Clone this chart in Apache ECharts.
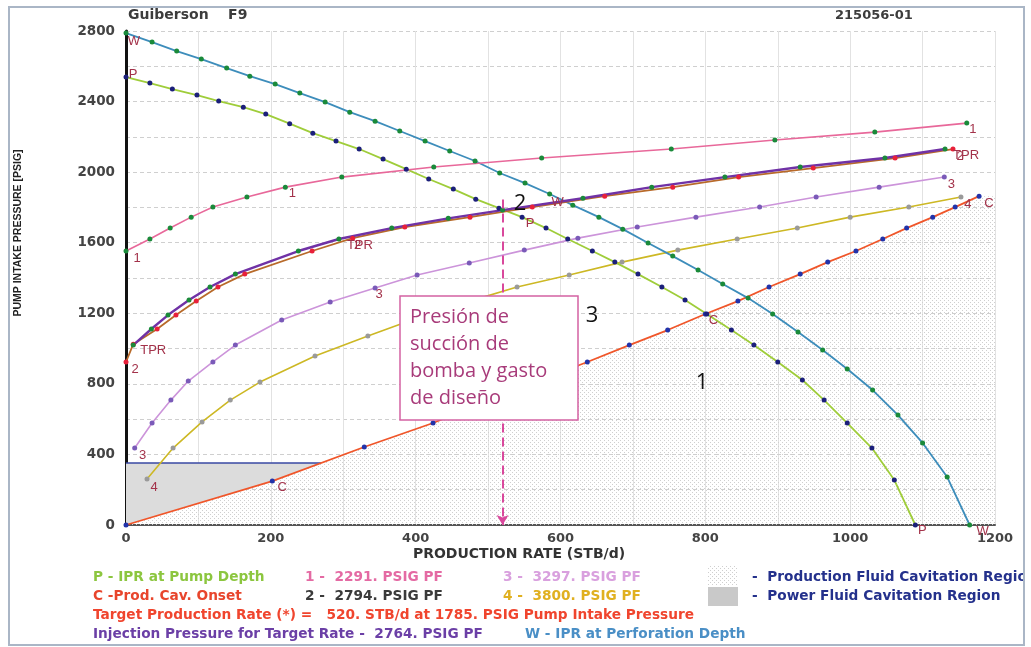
<!DOCTYPE html>
<html>
<head>
<meta charset="utf-8">
<script src="https://cdn.jsdelivr.net/npm/echarts@6/dist/echarts.min.js"></script>
<style>
  html, body { margin: 0; padding: 0; background: #ffffff; }
  #chart { width: 1031px; height: 647px; }
</style>
</head>
<body>
<div id="chart"></div>
<script>
// Jet pump performance: pump intake pressure vs production rate

// IPR at perforation depth (W)
const wRate  = [0, 36, 70, 104, 139, 171, 206, 240, 275, 309, 344, 378, 413, 447, 482, 516, 551, 585, 617, 653, 686, 721, 755, 790, 824, 859, 893, 928, 962, 996, 1031, 1066, 1100, 1134, 1165];
const wPress = [2788, 2737, 2686, 2641, 2590, 2544, 2499, 2448, 2397, 2340, 2289, 2233, 2176, 2120, 2063, 1995, 1938, 1876, 1813, 1745, 1677, 1598, 1524, 1445, 1366, 1286, 1196, 1094, 992, 884, 765, 623, 465, 272, 0];

// IPR at pump depth (P)
const pRate  = [0, 33, 64, 98, 128, 162, 193, 226, 258, 290, 322, 355, 387, 418, 452, 483, 515, 547, 580, 610, 644, 675, 707, 740, 772, 802, 836, 867, 900, 934, 964, 996, 1030, 1061, 1090];
const pPress = [2539, 2505, 2471, 2437, 2403, 2368, 2329, 2275, 2221, 2176, 2131, 2074, 2017, 1961, 1904, 1847, 1796, 1745, 1683, 1621, 1553, 1490, 1422, 1349, 1275, 1196, 1105, 1020, 924, 822, 708, 578, 436, 255, 0];

// Production cavitation onset (C)
const cRate  = [0, 202, 329, 424, 500, 569, 637, 695, 748, 800, 845, 888, 931, 969, 1008, 1045, 1078, 1114, 1145, 1178];
const cPress = [0, 249, 442, 578, 703, 816, 924, 1020, 1105, 1196, 1269, 1349, 1422, 1490, 1553, 1621, 1683, 1745, 1802, 1864];

// Pump curves at power fluid pressures
const r1 = [0, 33, 61, 90, 120, 167, 220, 298, 425, 574, 753, 896, 1034, 1161];
const p1 = [1553, 1621, 1683, 1745, 1802, 1859, 1915, 1972, 2029, 2080, 2131, 2182, 2227, 2278];

const r2 = [0, 10, 43, 69, 97, 127, 164, 257, 313, 385, 475, 561, 661, 755, 846, 949, 1062, 1142];
const p2 = [924, 1025, 1111, 1190, 1269, 1349, 1422, 1553, 1626, 1689, 1745, 1802, 1864, 1915, 1972, 2023, 2080, 2131];

const r3 = [12, 36, 62, 86, 120, 151, 215, 282, 344, 402, 474, 550, 624, 706, 787, 875, 953, 1040, 1130];
const p3 = [436, 578, 708, 816, 924, 1020, 1162, 1264, 1343, 1417, 1485, 1558, 1626, 1689, 1745, 1802, 1859, 1915, 1972];

const r4 = [29, 65, 105, 144, 185, 261, 334, 406, 475, 540, 612, 685, 762, 844, 927, 1000, 1081, 1153];
const p4 = [261, 436, 584, 708, 810, 958, 1071, 1179, 1269, 1349, 1417, 1490, 1558, 1621, 1683, 1745, 1802, 1859];

// Tubing performance at injection pressure for target rate (TPR)
const rT = [10, 35, 58, 87, 116, 151, 238, 294, 367, 445, 520, 631, 726, 827, 931, 1048, 1131];
const pT = [1020, 1111, 1190, 1275, 1349, 1422, 1553, 1621, 1683, 1738, 1785, 1852, 1915, 1972, 2029, 2080, 2131];

// Design point and power fluid cavitation limit
const targetRate = 520;
const targetPress = 1785;
const pfCavPress = 351;

// Axis ranges and tick labels
const xMax = 1200, xStep = 200;
const yMax = 2800, yStep = 400;

// Bottom legend lines
const legendRows = [
  [{ t: 'P - IPR at Pump Depth', c: '#8cc63f', x: 93 }, { t: '1 -  2291. PSIG PF', c: '#e46aa3', x: 305 }, { t: '3 -  3297. PSIG PF', c: '#d9a0de', x: 503 }, { t: '-  Production Fluid Cavitation Region', c: '#24318c', x: 752 }],
  [{ t: 'C -Prod. Cav. Onset', c: '#e8452c', x: 93 }, { t: '2 -  2794. PSIG PF', c: '#3a3a3a', x: 305 }, { t: '4 -  3800. PSIG PF', c: '#e0b020', x: 503 }, { t: '-  Power Fluid Cavitation Region', c: '#24318c', x: 752 }],
  [{ t: 'Target Production Rate (*) =   ' + targetRate + '. STB/d at ' + targetPress + '. PSIG Pump Intake Pressure', c: '#f0452e', x: 93 }],
  [{ t: 'Injection Pressure for Target Rate -  2764. PSIG PF', c: '#6b3fa6', x: 93 }, { t: 'W - IPR at Perforation Depth', c: '#4a8fc6', x: 525 }]
];

const FONT = 'Liberation Sans, Arial, sans-serif';
const WIDE = 'DejaVu Sans, Verdana, sans-serif';
const TAG = '#a3324a';

// dotted fill for the production fluid cavitation region
function dotPattern() {
  const cv = document.createElement('canvas');
  cv.width = 4; cv.height = 4;
  const g = cv.getContext('2d');
  g.fillStyle = '#cfcfcf';
  g.fillRect(0, 0, 1, 1);
  g.fillRect(2, 2, 1, 1);
  return cv;
}
const pattern = { image: dotPattern(), repeat: 'repeat' };

// pair x/y arrays into points, with curve tags attached to chosen points
function points(xs, ys, tags) {
  return xs.map((x, i) => {
    const tag = tags && tags[i];
    const item = { value: [x, ys[i]] };
    if (tag) {
      item.label = {
        show: true, formatter: tag[0], position: 'inside', offset: tag[1],
        color: TAG, fontSize: 13, fontFamily: FONT
      };
    }
    return item;
  });
}

function curve(name, xs, ys, lineColor, dotColor, tags, width) {
  return {
    name, type: 'line', data: points(xs, ys, tags),
    symbol: 'circle', symbolSize: 5, showSymbol: true,
    itemStyle: { color: dotColor },
    lineStyle: { color: lineColor, width: width || 1.6 },
    label: { show: false },
    emphasis: { disabled: true },
    z: 4, animation: false
  };
}

// rate where the cavitation onset curve reaches the power fluid limit
function crossing(level) {
  for (let i = 1; i < cRate.length; i++) {
    if (cPress[i] >= level) {
      const f = (level - cPress[i - 1]) / (cPress[i] - cPress[i - 1]);
      return cRate[i - 1] + f * (cRate[i] - cRate[i - 1]);
    }
  }
  return cRate[cRate.length - 1];
}
const pfCavRate = crossing(pfCavPress);

const chart = echarts.init(document.getElementById('chart'), null, { renderer: 'canvas' });

const option = {
  backgroundColor: '#ffffff',
  animation: false,
  grid: { left: 126, top: 31, right: 36, bottom: 122, containLabel: false },
  xAxis: {
    type: 'value', min: 0, max: xMax, interval: xStep,
    axisLine: { show: true, onZero: false, lineStyle: { color: '#555', width: 2 } },
    axisTick: { show: false },
    axisLabel: { fontFamily: WIDE, fontWeight: 'bold', fontSize: 13, color: '#444', margin: 7, formatter: v => String(v) },
    splitLine: { show: true, lineStyle: { color: '#e2e2e2', width: 1 } },
    minorTick: { show: false, splitNumber: 2 },
    minorSplitLine: { show: true, lineStyle: { color: '#e2e2e2', width: 1 } }
  },
  yAxis: {
    type: 'value', min: 0, max: yMax, interval: yStep,
    axisLine: { show: true, onZero: false, lineStyle: { color: '#111', width: 3 } },
    axisTick: { show: false },
    axisLabel: { fontFamily: WIDE, fontWeight: 'bold', fontSize: 13.5, color: '#444', margin: 11, formatter: v => String(v) },
    splitLine: { show: true, lineStyle: { color: '#cfcfcf', width: 1, type: [4, 3] } },
    minorTick: { show: false, splitNumber: 2 },
    minorSplitLine: { show: true, lineStyle: { color: '#cfcfcf', width: 1, type: [4, 3] } }
  },
  series: [
    {
      name: 'Production Fluid Cavitation Region', type: 'line',
      data: cRate.map((x, i) => [x, cPress[i]]).concat([[xMax, cPress[cPress.length - 1]]]),
      symbol: 'none', lineStyle: { width: 0 },
      areaStyle: { color: pattern, opacity: 1 },
      silent: true, z: 1
    },
    {
      name: 'Power Fluid Cavitation Region', type: 'custom',
      data: [0],
      renderItem: function (params, api) {
        const pts = [api.coord([0, pfCavPress]), api.coord([pfCavRate, pfCavPress])];
        for (let i = cRate.length - 1; i >= 0; i--) {
          if (cRate[i] < pfCavRate) pts.push(api.coord([cRate[i], cPress[i]]));
        }
        return { type: 'polygon', shape: { points: pts }, style: { fill: '#dcdcdc' } };
      },
      silent: true, z: 2
    },
    {
      name: 'Power fluid limit', type: 'line',
      data: [[0, pfCavPress], [pfCavRate, pfCavPress]],
      symbol: 'none', lineStyle: { color: '#3949a3', width: 1.5 }, silent: true, z: 3
    },
    curve('4', r4, p4, '#cdb824', '#9a9a9a', { 0: ['4', [7, 8]], 17: ['4', [7, 7]] }),
    curve('3', r3, p3, '#cc94da', '#7a5ab8', { 0: ['3', [8, 7]], 8: ['3', [4, 6]], 18: ['3', [7, 7]] }),
    curve('C', cRate, cPress, '#f0562a', '#2233aa', { 1: ['C', [10, 6]], 9: ['C', [8, 6]], 19: ['C', [10, 7]] }, 1.8),
    curve('P', pRate, pPress, '#9fcd3a', '#1b1f7a', { 0: ['P', [7, -3]], 17: ['P', [8, 6]], 34: ['P', [7, 5]] }, 1.8),
    curve('W', wRate, wPress, '#3d8dbb', '#1a8a3a', { 0: ['W', [8, 8]], 17: ['W', [8, 8]], 34: ['W', [13, 6]] }, 1.8),
    curve('1', r1, p1, '#e8689a', '#1a8a3a', { 0: ['1', [11, 7]], 6: ['1', [7, 6]], 13: ['1', [6, 6]] }),
    curve('2', r2, p2, '#b86a2a', '#e8203a', { 0: ['2', [9, 7]], 8: ['2', [5, 7]], 17: ['2', [7, 7]] }, 1.8),
    Object.assign(
      curve('TPR', rT, pT, '#7032a6', '#1a8a3a', { 0: ['TPR', [20, 5]], 7: ['TPR', [21, 6]], 16: ['TPR', [21, 6]] }, 2.4),
      {
        markLine: {
          silent: true, symbol: ['none', 'arrow'], symbolSize: [9, 10],
          label: { show: false },
          lineStyle: { color: '#d9489c', width: 2, type: [9, 5] },
          data: [[{ coord: [targetRate, targetPress + 60] }, { coord: [targetRate, 0] }]]
        }
      }
    )
  ],
  graphic: [
    // margin outside the frame, then the frame itself
    { type: 'rect', shape: { x: 1025, y: 0, width: 6, height: 647 }, style: { fill: '#ffffff' }, z: 99 },
    { type: 'rect', shape: { x: 9, y: 7, width: 1015, height: 638 }, style: { fill: 'none', stroke: '#aab6c6', lineWidth: 2 }, z: 100 },
    // header
    { type: 'text', x: 128, y: 8, style: { text: 'Guiberson    F9', font: 'bold 14px ' + WIDE, fill: '#3c3c3c' } },
    { type: 'text', x: 835, y: 9, style: { text: '215056-01', font: 'bold 13px ' + WIDE, fill: '#3c3c3c' } },
    // axis titles
    { type: 'text', x: 18, y: 233, rotation: Math.PI / 2,
      style: { text: 'PUMP INTAKE PRESSURE [PSIG]', font: 'bold 10.5px ' + FONT, fill: '#222', align: 'center', verticalAlign: 'middle' } },
    { type: 'text', x: 519, y: 554,
      style: { text: 'PRODUCTION RATE (STB/d)', font: 'bold 14px ' + WIDE, fill: '#333', align: 'center', verticalAlign: 'middle' } },
    // design point note
    { type: 'rect', shape: { x: 400, y: 296, width: 178, height: 124 }, style: { fill: '#ffffff', stroke: '#d462a2', lineWidth: 1.5 }, z: 50 },
    { type: 'text', x: 410, y: 304, z: 51,
      style: { text: 'Presión de\nsucción de\nbomba y gasto\nde diseño', font: '20px Open Sans, sans-serif', lineHeight: 27, fill: '#a83b7a' } },
    { type: 'text', x: 520, y: 204, z: 51, style: { text: '2', font: '22px Open Sans, sans-serif', fill: '#111', align: 'center', verticalAlign: 'middle' } },
    { type: 'text', x: 592, y: 316, z: 51, style: { text: '3', font: '22px Open Sans, sans-serif', fill: '#111', align: 'center', verticalAlign: 'middle' } },
    { type: 'text', x: 702, y: 383, z: 51, style: { text: '1', font: '22px Open Sans, sans-serif', fill: '#111', align: 'center', verticalAlign: 'middle' } },
    // legend swatches
    { type: 'rect', shape: { x: 708, y: 565, width: 30, height: 20 }, style: { fill: pattern } },
    { type: 'rect', shape: { x: 708, y: 587, width: 30, height: 19 }, style: { fill: '#c9c9c9' } }
  ].concat(
    legendRows.flatMap((row, r) => row.map(cell => ({
      type: 'text', x: cell.x, y: 577 + r * 19,
      style: { text: cell.t, font: 'bold 13.7px ' + WIDE, fill: cell.c, verticalAlign: 'middle' }
    })))
  )
};

chart.setOption(option);
</script>
</body>
</html>
